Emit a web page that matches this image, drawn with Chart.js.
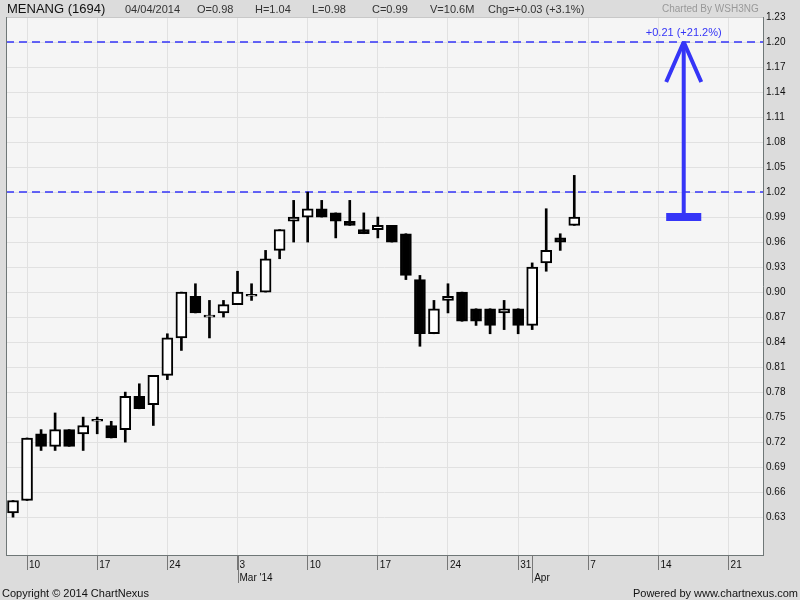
<!DOCTYPE html>
<html>
<head>
<meta charset="utf-8">
<script src="https://cdn.jsdelivr.net/npm/chart.js@4.4.1/dist/chart.umd.min.js"></script>
<style>
html, body { margin: 0; padding: 0; background: #dcdcdc; }
#wrap { position: relative; width: 800px; height: 600px; font-family: "Liberation Sans", Arial, sans-serif; }
#chart { position: absolute; left: 0; top: 0; }
.t { position: absolute; white-space: nowrap; font-size: 11px; line-height: 14px; color: #333; }
</style>
</head>
<body>
<div id="wrap">
  <canvas id="chart" width="800" height="600"></canvas>
  <div class="t" style="left:7px;top:1px;font-size:13px;line-height:16px;color:#111">MENANG (1694)</div>
  <div class="t" style="left:125px;top:2px">04/04/2014</div>
  <div class="t" style="left:197px;top:2px">O=0.98</div>
  <div class="t" style="left:255px;top:2px">H=1.04</div>
  <div class="t" style="left:312px;top:2px">L=0.98</div>
  <div class="t" style="left:372px;top:2px">C=0.99</div>
  <div class="t" style="left:430px;top:2px">V=10.6M</div>
  <div class="t" style="left:488px;top:2px">Chg=+0.03 (+3.1%)</div>
  <div class="t" style="left:662px;top:2px;font-size:10px;color:#999">Charted By WSH3NG</div>
  <div class="t" style="left:2px;top:586px;color:#111">Copyright © 2014 ChartNexus</div>
  <div class="t" style="right:2px;top:586px;color:#111">Powered by www.chartnexus.com</div>
</div>
<script>
// trading days: 41 with prices, then future days to the end of the axis
const dates = [
  '2014-02-07',
  '2014-02-10', '2014-02-11', '2014-02-12', '2014-02-13', '2014-02-14',
  '2014-02-17', '2014-02-18', '2014-02-19', '2014-02-20', '2014-02-21',
  '2014-02-24', '2014-02-25', '2014-02-26', '2014-02-27', '2014-02-28',
  '2014-03-03', '2014-03-04', '2014-03-05', '2014-03-06', '2014-03-07',
  '2014-03-10', '2014-03-11', '2014-03-12', '2014-03-13', '2014-03-14',
  '2014-03-17', '2014-03-18', '2014-03-19', '2014-03-20', '2014-03-21',
  '2014-03-24', '2014-03-25', '2014-03-26', '2014-03-27', '2014-03-28',
  '2014-03-31', '2014-04-01', '2014-04-02', '2014-04-03', '2014-04-04',
  '2014-04-07', '2014-04-08', '2014-04-09', '2014-04-10', '2014-04-11',
  '2014-04-14', '2014-04-15', '2014-04-16', '2014-04-17', '2014-04-18',
  '2014-04-21', '2014-04-22', '2014-04-23'
];

const opens  = [0.635, 0.65, 0.73, 0.715, 0.735, 0.73, 0.745, 0.74, 0.735, 0.775, 0.765,
                0.80, 0.845, 0.895, 0.87, 0.875, 0.885, 0.895, 0.90, 0.95, 0.985,
                0.99, 1.00, 0.995, 0.985, 0.975, 0.975, 0.98, 0.97, 0.915, 0.85,
                0.89, 0.90, 0.88, 0.88, 0.875, 0.88, 0.86, 0.935, 0.965, 0.98];
const highs  = [0.65, 0.725, 0.735, 0.755, 0.735, 0.75, 0.75, 0.745, 0.78, 0.79, 0.80,
                0.85, 0.90, 0.91, 0.89, 0.89, 0.925, 0.91, 0.95, 0.975, 1.01,
                1.02, 1.01, 0.995, 1.01, 0.995, 0.99, 0.98, 0.97, 0.92, 0.89,
                0.91, 0.90, 0.88, 0.88, 0.89, 0.88, 0.935, 1.00, 0.97, 1.04];
const lows   = [0.63, 0.65, 0.71, 0.71, 0.715, 0.71, 0.73, 0.725, 0.72, 0.76, 0.74,
                0.795, 0.83, 0.875, 0.845, 0.87, 0.885, 0.89, 0.90, 0.94, 0.96,
                0.96, 0.99, 0.965, 0.98, 0.97, 0.965, 0.96, 0.915, 0.835, 0.85,
                0.875, 0.865, 0.86, 0.85, 0.855, 0.85, 0.855, 0.925, 0.95, 0.98];
const closes = [0.65, 0.725, 0.715, 0.735, 0.715, 0.74, 0.745, 0.725, 0.775, 0.76, 0.80,
                0.845, 0.90, 0.875, 0.87, 0.885, 0.90, 0.895, 0.94, 0.975, 0.99,
                1.00, 0.99, 0.985, 0.98, 0.97, 0.98, 0.96, 0.92, 0.85, 0.88,
                0.895, 0.865, 0.865, 0.86, 0.88, 0.86, 0.93, 0.95, 0.96, 0.99];

const yTicks = [0.63, 0.66, 0.69, 0.72, 0.75, 0.78, 0.81, 0.84, 0.87, 0.90, 0.93, 0.96, 0.99,
                1.02, 1.05, 1.08, 1.11, 1.14, 1.17, 1.20, 1.23];
const monthNames = ['Jan', 'Feb', 'Mar', 'Apr', 'May', 'Jun', 'Jul', 'Aug', 'Sep', 'Oct', 'Nov', 'Dec'];

// horizontal study lines and the projection arrow
const resistance = 1.02;
const target = 1.20;
const arrowAt = 47.8;
const arrowHalf = 1.25;
const headDrop = 0.048;

const blue = '#3535f7';
const base = closes[closes.length - 1];

const parsed = dates.map(d => new Date(d + 'T00:00:00'));
const isMonday = i => parsed[i].getDay() === 1;
const isMonthStart = i => i > 0 && parsed[i].getMonth() !== parsed[i - 1].getMonth();
const xTicks = dates.map((d, i) => i).filter(i => isMonday(i) || isMonthStart(i));

function tickLabel(i) {
  const day = isMonday(i) ? String(parsed[i].getDate()) : '';
  if (!isMonthStart(i)) return day;
  let m = monthNames[parsed[i].getMonth()];
  if (parsed[i].getMonth() === 2) m += " '14";
  return [day, m];
}

const xMin = -0.5;
const xMax = 53.45;

const bodies = opens.map((o, i) => ({ x: i, y: [o, closes[i]] }));
const wicks = lows.map((l, i) => ({ x: i, y: [l, highs[i]] }));

const plotFrame = {
  id: 'plotFrame',
  beforeDraw(chart) {
    const { ctx, chartArea: a } = chart;
    ctx.save();
    ctx.fillStyle = '#f5f5f5';
    ctx.fillRect(a.left, a.top, a.right - a.left, a.bottom - a.top);
    ctx.restore();
  },
  afterDraw(chart) {
    const { ctx, chartArea: a, scales } = chart;
    ctx.save();
    ctx.strokeStyle = '#c8c8c8';
    ctx.lineWidth = 1;
    ctx.beginPath();
    ctx.moveTo(a.left, a.top + 0.5);
    ctx.lineTo(a.right, a.top + 0.5);
    ctx.stroke();
    ctx.strokeStyle = '#6f7777';
    ctx.beginPath();
    ctx.moveTo(a.left + 0.5, a.top);
    ctx.lineTo(a.left + 0.5, a.bottom);
    ctx.stroke();
    // longer tick marks under the month names
    ctx.strokeStyle = '#777';
    xTicks.filter(isMonthStart).forEach(i => {
      const px = Math.round(scales.x.getPixelForValue(i)) + 0.5;
      ctx.beginPath();
      ctx.moveTo(px, a.bottom);
      ctx.lineTo(px, a.bottom + 28);
      ctx.stroke();
    });
    // change label above the arrow
    const chg = target - base;
    const txt = '+' + chg.toFixed(2) + ' (+' + (chg / base * 100).toFixed(1) + '%)';
    ctx.fillStyle = blue;
    ctx.font = '11px "Liberation Sans", Arial, sans-serif';
    ctx.textAlign = 'center';
    ctx.textBaseline = 'middle';
    ctx.fillText(txt, scales.x.getPixelForValue(arrowAt), scales.y.getPixelForValue(target) - 9);
    ctx.restore();
  }
};

Chart.defaults.font.family = '"Liberation Sans", Arial, sans-serif';

const lineStyle = { type: 'line', pointRadius: 0, fill: false, tension: 0, borderColor: blue };

new Chart(document.getElementById('chart'), {
  type: 'bar',
  data: {
    datasets: [
      {
        ...lineStyle,
        data: [{ x: arrowAt - arrowHalf, y: target - headDrop }, { x: arrowAt, y: target }, { x: arrowAt + arrowHalf, y: target - headDrop }],
        borderWidth: 4, borderJoinStyle: 'bevel', order: 0
      },
      {
        ...lineStyle,
        data: [{ x: arrowAt, y: base }, { x: arrowAt, y: target }],
        borderWidth: 4, order: 0
      },
      {
        ...lineStyle,
        data: [{ x: arrowAt - arrowHalf, y: base }, { x: arrowAt + arrowHalf, y: base }],
        borderWidth: 8, order: 0
      },
      {
        data: bodies,
        backgroundColor: opens.map((o, i) => closes[i] >= o ? '#ffffff' : '#000000'),
        borderColor: '#000000',
        borderWidth: 2,
        borderSkipped: false,
        barThickness: 11,
        minBarLength: 2,
        grouped: false,
        order: 1
      },
      {
        data: wicks,
        backgroundColor: '#000000',
        borderWidth: 0,
        barThickness: 2,
        grouped: false,
        order: 2
      },
      {
        ...lineStyle,
        data: [{ x: xMin, y: target }, { x: xMax, y: target }],
        borderWidth: 1.6, borderDash: [8, 5], order: 3
      },
      {
        ...lineStyle,
        data: [{ x: xMin, y: resistance }, { x: xMax, y: resistance }],
        borderWidth: 1.6, borderDash: [8, 5], order: 3
      }
    ]
  },
  options: {
    responsive: false,
    animation: false,
    devicePixelRatio: 1,
    events: [],
    layout: { padding: { left: 6, top: 17, right: 0, bottom: 0 } },
    plugins: {
      legend: { display: false },
      tooltip: { enabled: false }
    },
    scales: {
      x: {
        type: 'linear',
        min: xMin,
        max: xMax,
        offset: false,
        afterBuildTicks: scale => { scale.ticks = xTicks.map(v => ({ value: v })); },
        afterFit: scale => { scale.height = 45; },
        grid: {
          offset: false,
          color: ctx => (ctx.tick && isMonday(ctx.tick.value)) ? '#e1e1e1' : 'rgba(0,0,0,0)',
          tickColor: '#777',
          tickLength: 15,
          drawTicks: true
        },
        border: { display: true, color: '#6f7777' },
        ticks: {
          autoSkip: false,
          maxRotation: 0,
          align: 'start',
          labelOffset: 2,
          padding: -12,
          color: '#111',
          font: { size: 10, lineHeight: 1.35 },
          callback: v => tickLabel(v)
        }
      },
      y: {
        position: 'right',
        min: 0.5846,
        max: 1.23,
        afterBuildTicks: scale => { scale.ticks = yTicks.map(v => ({ value: v })); },
        afterFit: scale => { scale.width = 37; },
        grid: { color: '#e1e1e1', drawTicks: false },
        border: { display: true, color: '#6f7777' },
        ticks: {
          padding: 3,
          color: '#111',
          font: { size: 10 },
          callback: v => v.toFixed(2)
        }
      }
    }
  },
  plugins: [plotFrame]
});
</script>
</body>
</html>
